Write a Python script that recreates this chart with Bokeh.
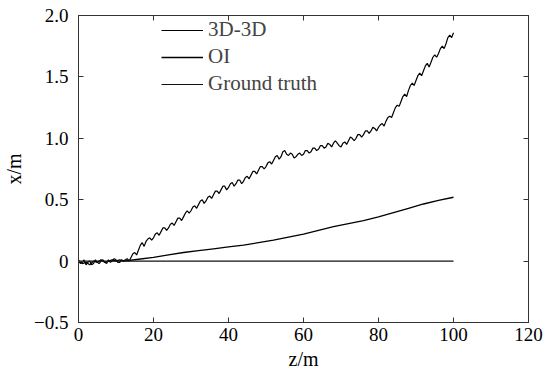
from bokeh.plotting import figure
from bokeh.models import LinearAxis, Range1d, Legend, LegendItem
from bokeh.embed import file_html
from bokeh.resources import INLINE

# ---------------- data ----------------
# 3D-3D estimate, sampled every 0.5 m along z
z_3d = [i * 0.5 for i in range(201)]
x_3d = [0.01, -0.02, -0.01, 0.01, -0.03, -0.01, 0.00, -0.03, -0.02, 0.01,
        -0.01, -0.02, 0.00, 0.01, -0.01, -0.02, 0.01, -0.01, 0.00, 0.02,
        0.01, -0.01, -0.01, 0.01, 0.00, 0.01, 0.02, 0.00, 0.03, 0.06,
        0.07, 0.05, 0.09, 0.13, 0.15, 0.12, 0.16, 0.18, 0.19, 0.17,
        0.19, 0.22, 0.23, 0.21, 0.24, 0.27, 0.27, 0.25, 0.27, 0.30,
        0.31, 0.29, 0.32, 0.35, 0.35, 0.33, 0.36, 0.39, 0.41, 0.39,
        0.41, 0.44, 0.45, 0.43, 0.46, 0.49, 0.50, 0.47, 0.49, 0.52,
        0.53, 0.51, 0.54, 0.57, 0.57, 0.55, 0.58, 0.61, 0.61, 0.58,
        0.60, 0.63, 0.64, 0.61, 0.63, 0.66, 0.66, 0.63, 0.65, 0.68,
        0.69, 0.67, 0.70, 0.73, 0.73, 0.71, 0.74, 0.77, 0.77, 0.75,
        0.77, 0.80, 0.81, 0.79, 0.82, 0.85, 0.86, 0.83, 0.85, 0.89,
        0.90, 0.87, 0.86, 0.88, 0.87, 0.84, 0.85, 0.87, 0.88, 0.86,
        0.87, 0.90, 0.90, 0.88, 0.89, 0.92, 0.92, 0.90, 0.91, 0.94,
        0.94, 0.92, 0.93, 0.96, 0.95, 0.93, 0.96, 0.98, 0.96, 0.94,
        0.93, 0.96, 0.97, 0.95, 0.98, 1.01, 1.00, 0.98, 1.00, 1.03,
        1.03, 1.01, 1.03, 1.06, 1.06, 1.04, 1.06, 1.09, 1.08, 1.06,
        1.09, 1.11, 1.12, 1.10, 1.14, 1.17, 1.18, 1.17, 1.21, 1.25,
        1.27, 1.26, 1.30, 1.34, 1.36, 1.34, 1.39, 1.43, 1.45, 1.43,
        1.47, 1.51, 1.53, 1.51, 1.55, 1.59, 1.61, 1.58, 1.62, 1.66,
        1.68, 1.66, 1.69, 1.73, 1.75, 1.73, 1.77, 1.82, 1.84, 1.82,
        1.86]

z_oi = [0, 1, 2, 3, 4, 5, 6, 7, 8, 9, 10, 11, 12, 16, 20, 24, 28, 32, 36,
        40, 44, 48, 52, 56, 60, 64, 68, 72, 76, 80, 84, 88, 92, 96, 100]
x_oi = [0.00, -0.02, -0.01, -0.03, 0.00, -0.01, 0.01, -0.01, 0.00, 0.01,
        0.00, 0.01, 0.00, 0.015, 0.03, 0.05, 0.07, 0.085, 0.10, 0.115,
        0.13, 0.15, 0.17, 0.195, 0.22, 0.25, 0.28, 0.305, 0.33, 0.36,
        0.395, 0.43, 0.465, 0.495, 0.52]

z_gt = [0, 100]
x_gt = [0, 0]

x_ticks = [0, 20, 40, 60, 80, 100, 120]
y_ticks = [-0.5, 0, 0.5, 1.0, 1.5, 2.0]
y_tick_labels = ["\u22120.5", "0", "0.5", "1.0", "1.5", "2.0"]
series_names = ["3D-3D", "OI", "Ground truth"]
x_title = "z/m"
y_title = "x/m"

FONT = "Liberation Serif"
AX = "#333333"

p = figure(width=548, height=375,
           min_border_left=78, min_border_top=15, min_border_right=20, min_border_bottom=53,
           x_range=Range1d(0, 120), y_range=Range1d(-0.5, 2.0),
           output_backend="svg", toolbar_location=None)
p.grid.visible = False
p.outline_line_color = AX
p.background_fill_color = "white"
p.border_fill_color = "white"

r1 = p.line(z_3d, x_3d, line_color="black", line_width=1.2)
r2 = p.line(z_oi, x_oi, line_color="black", line_width=1.3)
r3 = p.line(z_gt, x_gt, line_color="#111111", line_width=1.2)

bx = p.below[0]
ly = p.left[0]
top = LinearAxis()
right = LinearAxis()
p.add_layout(top, "above")
p.add_layout(right, "right")

for ax in [bx, top]:
    ax.ticker = x_ticks
for ax in [ly, right]:
    ax.ticker = y_ticks

for ax in [bx, ly, top, right]:
    ax.axis_line_color = AX
    ax.major_tick_line_color = AX
    ax.major_tick_in = 5
    ax.major_tick_out = 0
    ax.minor_tick_line_color = None
    ax.major_label_text_font = FONT
    ax.major_label_text_font_size = "19px"
    ax.major_label_text_color = "black"
    ax.axis_label_text_font = FONT
    ax.axis_label_text_font_size = "20px"
    ax.axis_label_text_font_style = "normal"
    ax.axis_label_text_color = "black"

for ax in [top, right]:
    ax.major_label_text_font_size = "0px"
    ax.major_label_standoff = 0

bx.major_label_standoff = 5
bx.axis_label = x_title
bx.axis_label_standoff = 4
ly.major_label_standoff = 10
ly.major_label_overrides = {t: s for t, s in zip(y_ticks, y_tick_labels)}
ly.axis_label = y_title
ly.axis_label_standoff = 6

legend = Legend(items=[LegendItem(label=series_names[0], renderers=[r1]),
                       LegendItem(label=series_names[1], renderers=[r2]),
                       LegendItem(label=series_names[2], renderers=[r3])],
                location=(83, 226), padding=0, margin=0, spacing=2,
                glyph_width=42, glyph_height=24, label_height=24, label_standoff=5,
                label_text_font=FONT, label_text_font_size="21px",
                border_line_alpha=0, background_fill_alpha=0)
p.add_layout(legend)

open("out.html", "w").write(file_html(p, INLINE))
